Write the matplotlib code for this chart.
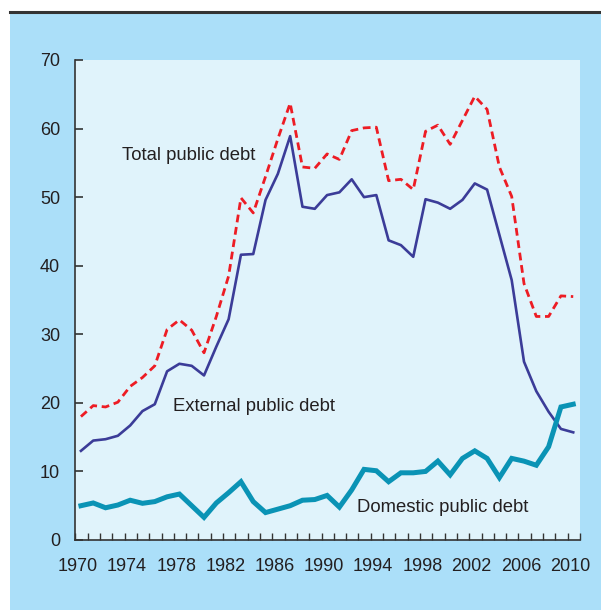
import matplotlib
matplotlib.use("Agg")
import matplotlib.pyplot as plt
from matplotlib.patches import Rectangle
from matplotlib.lines import Line2D
import numpy as np

# Datorie publica (% din PIB), 1970-2010

ani = list(range(1970, 2011))

datorie_totala = [18.0, 19.6, 19.4, 20.1, 22.4, 23.7, 25.4, 30.7, 32.1, 30.6,
                  27.3, 32.6, 38.5, 49.9, 47.7, 53.0, 58.5, 63.7, 54.4, 54.2,
                  56.3, 55.5, 59.7, 60.1, 60.2, 52.4, 52.6, 51.1, 59.6, 60.5,
                  57.7, 61.2, 64.7, 62.8, 54.4, 50.1, 37.4, 32.6, 32.6, 35.6,
                  35.5]

datorie_externa = [13.0, 14.5, 14.7, 15.2, 16.7, 18.8, 19.8, 24.6, 25.7, 25.4,
                   24.0, 28.2, 32.2, 41.6, 41.7, 49.6, 53.4, 58.9, 48.6, 48.3,
                   50.3, 50.7, 52.6, 50.0, 50.3, 43.7, 43.0, 41.3, 49.7, 49.2,
                   48.3, 49.6, 52.0, 51.1, 44.5, 37.9, 26.0, 21.7, 18.7, 16.2,
                   15.7]

datorie_interna = [5.0, 5.4, 4.7, 5.1, 5.8, 5.35, 5.6, 6.3, 6.7, 5.0,
                   3.3, 5.4, 6.9, 8.5, 5.6, 4.0, 4.5, 5.0, 5.8, 5.9,
                   6.5, 4.8, 7.3, 10.3, 10.1, 8.5, 9.8, 9.8, 10.0, 11.5,
                   9.5, 11.9, 13.0, 11.9, 9.1, 11.9, 11.5, 10.9, 13.6, 19.4,
                   19.8]

fundal = "#abdff9"
fundal_axe = "#e0f3fb"
text_col = "#231f20"

fig = plt.figure(figsize=(6.01, 6.10), dpi=100)
fig.patch.set_facecolor("white")
fig.add_artist(Rectangle((10 / 601, 0), 1, 1 - 13 / 610, transform=fig.transFigure,
                         facecolor=fundal, edgecolor="none", zorder=-5))
fig.add_artist(Line2D([10 / 601, 1], [1 - 11.5 / 610] * 2, transform=fig.transFigure,
                      color="#333333", linewidth=2.2, zorder=-4))

ax = fig.add_axes([75.4 / 601, 70 / 610, (580 - 75.4) / 601, 480 / 610])
ax.set_facecolor(fundal_axe)

x = np.arange(len(ani)) + 0.45

ax.plot(x, datorie_totala, color="#ed1c24", linewidth=2.0, dashes=(2.8, 1.7))
ax.plot(x, datorie_externa, color="#3b3c98", linewidth=1.9)
ax.plot(x, datorie_interna, color="#0a93b5", linewidth=3.6, solid_joinstyle="miter")

ax.set_xlim(0, len(ani))
ax.set_ylim(0, 70)

for s in ["top", "right"]:
    ax.spines[s].set_visible(False)
for s in ["left", "bottom"]:
    ax.spines[s].set_color("#333333")
    ax.spines[s].set_linewidth(1.2)

font_ticks = dict(family=["Liberation Sans Narrow", "Liberation Sans"], size=13)

ax.set_yticks(range(0, 71, 10))
ax.set_yticklabels([str(v) for v in range(0, 71, 10)], color=text_col, **font_ticks)
ax.tick_params(axis="y", direction="in", length=5.5, width=1.2, color="#333333", pad=11)

ax.set_xticks(np.arange(len(ani) + 1))
ax.set_xticklabels([])
ax.tick_params(axis="x", direction="in", length=5, width=1, color="#333333")

# etichete ani, fara liniute
for i, an in enumerate(ani):
    if (an - 1970) % 4 == 0:
        ax.text(i + 0.2, -0.038, str(an), transform=ax.get_xaxis_transform(),
                ha="center", va="top", color=text_col, **font_ticks)

font_text = dict(family="Liberation Sans", size=13.3, color=text_col)
ax.text(3.76, 56.0, "Total public debt", va="center", ha="left", **font_text)
ax.text(7.96, 19.4, "External public debt", va="center", ha="left", **font_text)
ax.text(22.9, 4.8, "Domestic public debt", va="center", ha="left", **font_text)

plt.savefig("out.png", dpi=100, facecolor=fig.get_facecolor())
